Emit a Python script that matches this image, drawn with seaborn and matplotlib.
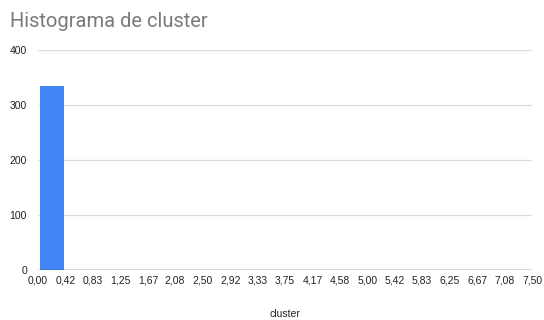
import numpy as np
import pandas as pd
import matplotlib
matplotlib.use("Agg")
import matplotlib.pyplot as plt
import seaborn as sns

# Bin edges and counts of the "cluster" histogram
bin_edges = [0.00, 0.42, 0.83, 1.25, 1.67, 2.08, 2.50, 2.92, 3.33, 3.75,
             4.17, 4.58, 5.00, 5.42, 5.83, 6.25, 6.67, 7.08, 7.50]
edge_labels = ["0,00", "0,42", "0,83", "1,25", "1,67", "2,08", "2,50", "2,92",
               "3,33", "3,75", "4,17", "4,58", "5,00", "5,42", "5,83", "6,25",
               "6,67", "7,08", "7,50"]
bin_counts = [335, 0, 0, 0, 0, 0, 0, 0, 0, 0, 0, 0, 0, 0, 0, 0, 0, 0]
y_ticks = [0, 100, 200, 300, 400]

sns.set_theme(style="white")
plt.rcParams["font.family"] = ["Liberation Sans", "DejaVu Sans"]

edges = np.array(bin_edges)
df = pd.DataFrame({
    "cluster": (edges[:-1] + edges[1:]) / 2,
    "count": bin_counts,
})

fig = plt.figure(figsize=(5.44, 3.2), dpi=100)
ax = fig.add_axes([0.070, 0.156, 0.908, 0.688])

sns.histplot(data=df, x="cluster", weights="count", bins=list(bin_edges),
             ax=ax, color="#4285f4", alpha=1, edgecolor="none", linewidth=0,
             shrink=0.88)

ax.set_xlim(edges[0], edges[-1])
ax.set_ylim(0, 400)
ax.set_xticks(edges)
ax.set_xticklabels(edge_labels, fontsize=7.5, color="#222222")
ax.set_yticks(y_ticks)
ax.set_yticklabels([str(t) for t in y_ticks], fontsize=7.5, color="#222222")
ax.tick_params(axis="both", length=0, pad=4)
ax.tick_params(axis="y", pad=8)

for t in y_ticks[1:]:
    ax.axhline(t, color="#dddddd", linewidth=0.9, zorder=0)
ax.axhline(0, color="#333333", linewidth=1.0, zorder=3)

for s in ax.spines.values():
    s.set_visible(False)

ax.set_ylabel("")
ax.set_xlabel("cluster", fontsize=7.5, color="#222222", labelpad=17)

fig.text(0.018, 0.915, "Histograma de cluster", fontsize=14.5,
         color="#7a7a7a", family=["Roboto", "DejaVu Sans"], va="baseline")

fig.savefig("out.png", dpi=100, facecolor="white")
